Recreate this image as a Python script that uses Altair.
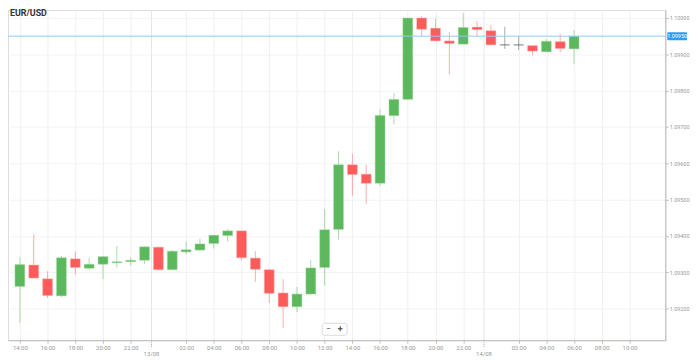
import altair as alt
import pandas as pd

# ---- data (EUR/USD hourly candles, 12/08 14:00 -> 14/08 06:00)
opens  = [1.09261, 1.09320, 1.09282, 1.09235, 1.09337, 1.09311, 1.09322, 1.09326, 1.09329, 1.09333,
          1.09369, 1.09307, 1.09356, 1.09361, 1.09379, 1.09401, 1.09414, 1.09339, 1.09307, 1.09243,
          1.09205, 1.09240, 1.09313, 1.09418, 1.09596, 1.09570, 1.09545, 1.09731, 1.09776, 1.10000,
          1.09972, 1.09937, 1.09928, 1.09975, 1.09965, 1.09926, 1.09926, 1.09924, 1.09907, 1.09935,
          1.09915]
highs  = [1.09341, 1.09404, 1.09303, 1.09345, 1.09357, 1.09340, 1.09345, 1.09372, 1.09341, 1.09372,
          1.09371, 1.09361, 1.09384, 1.09393, 1.09402, 1.09420, 1.09414, 1.09358, 1.09308, 1.09281,
          1.09260, 1.09333, 1.09474, 1.09633, 1.09626, 1.09596, 1.09748, 1.09793, 1.10000, 1.10005,
          1.09998, 1.09962, 1.10014, 1.09992, 1.09981, 1.09976, 1.09950, 1.09924, 1.09942, 1.09956,
          1.09967]
lows   = [1.09161, 1.09283, 1.09229, 1.09232, 1.09293, 1.09307, 1.09281, 1.09313, 1.09318, 1.09322,
          1.09305, 1.09305, 1.09350, 1.09360, 1.09365, 1.09384, 1.09333, 1.09273, 1.09216, 1.09146,
          1.09190, 1.09238, 1.09263, 1.09390, 1.09511, 1.09488, 1.09537, 1.09707, 1.09776, 1.09949,
          1.09937, 1.09846, 1.09928, 1.09950, 1.09926, 1.09915, 1.09912, 1.09897, 1.09907, 1.09906,
          1.09873]
closes = [1.09321, 1.09284, 1.09236, 1.09340, 1.09313, 1.09322, 1.09343, 1.09329, 1.09333, 1.09370,
          1.09307, 1.09358, 1.09362, 1.09378, 1.09402, 1.09414, 1.09340, 1.09308, 1.09242, 1.09205,
          1.09240, 1.09312, 1.09417, 1.09596, 1.09569, 1.09545, 1.09732, 1.09776, 1.10000, 1.09969,
          1.09937, 1.09930, 1.09974, 1.09968, 1.09926, 1.09926, 1.09926, 1.09909, 1.09936, 1.09916,
          1.09950]

tick_hours  = [0, 2, 4, 6, 8, 12, 14, 16, 18, 20, 22, 24, 26, 28, 30, 32, 36, 38, 40, 42, 44]
tick_labels = ["14:00", "16:00", "18:00", "20:00", "22:00", "02:00", "04:00", "06:00", "08:00",
               "10:00", "12:00", "14:00", "16:00", "18:00", "20:00", "22:00", "02:00", "04:00",
               "06:00", "08:00", "10:00"]
day_hours  = [9.5, 33.5]
day_labels = ["13/08", "14/08"]
y_ticks = [1.092, 1.093, 1.094, 1.095, 1.096, 1.097, 1.098, 1.099, 1.100]
current_price = 1.09950
pair_name = "EUR/USD"

# ---- styling
W, H = 665, 334
GREEN, RED, GRAY = "#5cb85c", "#ff5b5b", "#555555"
FONT = "Roboto"

df = pd.DataFrame({"h": list(range(len(opens))), "open": opens, "high": highs,
                   "low": lows, "close": closes})
df["dir"] = ["up" if c > o else ("down" if c < o else "flat") for o, c in zip(opens, closes)]

label_arr = [""] * 45
for h, l in zip(tick_hours, tick_labels):
    label_arr[h] = l
label_expr = "[" + ",".join("'%s'" % s for s in label_arr) + "][datum.value]"

xscale = alt.Scale(domain=[-0.5, 46.23], nice=False, zero=False)
yscale = alt.Scale(domain=[1.09113, 1.10022], nice=False, zero=False)
cscale = alt.Scale(domain=["up", "down", "flat"], range=[GREEN, RED, GRAY])

x_axis = alt.Axis(values=tick_hours, labelExpr=label_expr, labelFontSize=6, labelColor="#999",
                  labelFont=FONT, tickSize=3, tickColor="#bbb", domainColor="#bbb",
                  gridColor="#f0f0f0", labelPadding=1, title=None, labelFlush=False)
y_axis = alt.Axis(orient="right", values=y_ticks, format=".5f", labelFontSize=5.5,
                  labelColor="#999", labelFont=FONT, tickSize=3, tickColor="#bbb",
                  domainColor="#bbb", gridColor="#f3f3f3", labelPadding=1, title=None)


def X(field):
    return alt.X(field, scale=xscale, axis=x_axis, title=None)


def Y(field):
    return alt.Y(field, scale=yscale, axis=y_axis, title=None)


base = alt.Chart(df)

wicks = base.mark_rule(strokeWidth=1, opacity=0.5).encode(
    x=X("h:Q"), y=Y("low:Q"), y2="high:Q",
    color=alt.Color("dir:N", scale=cscale, legend=None),
)
bodies = base.mark_bar(size=10, strokeWidth=1, strokeOpacity=0.45).encode(
    x=X("h:Q"), y=Y("open:Q"), y2="close:Q",
    color=alt.Color("dir:N", scale=cscale, legend=None),
    stroke=alt.Stroke("dir:N", scale=alt.Scale(domain=["up", "down", "flat"],
                                               range=["#a9dba9", "#ffb0b0", GRAY]), legend=None),
)

days = alt.Chart(pd.DataFrame({"h": day_hours, "lab": day_labels}))
day_lines = days.mark_rule(color="#e6e6e6", strokeWidth=1).encode(
    x=X("h:Q"), y=alt.value(0), y2=alt.value(H))
day_ticks = days.mark_rule(color="#aaa", strokeWidth=1, strokeDash=[1, 1]).encode(
    x=X("h:Q"), y=alt.value(H), y2=alt.value(H + 7))
day_text = days.mark_text(fontSize=6, color="#999", font=FONT, baseline="middle").encode(
    x=X("h:Q"), y=alt.value(H + 14), text="lab:N")

pdf = pd.DataFrame({"h": [0], "low": [current_price]})
price_line = alt.Chart(pdf).mark_rule(color="#90cbf9", strokeWidth=1).encode(
    y=Y("low:Q"), x=alt.value(0), x2=alt.value(W))
price_box = alt.Chart(pdf).mark_rect(
    color="#2e9bf0", yOffset=-4, y2Offset=4, cornerRadius=1).encode(
    x=alt.value(W + 2), x2=alt.value(W + 22), y=Y("low:Q"), y2="low:Q")
price_text = alt.Chart(pdf).mark_text(
    color="white", fontSize=5.5, font=FONT, baseline="middle").encode(
    x=alt.value(W + 12), y=Y("low:Q"), text=alt.Text("low:Q", format=".5f"))

title = alt.Chart(pd.DataFrame({"t": [pair_name]})).mark_text(
    fontSize=9, fontWeight="bold", color="#333", font=FONT, align="left",
    baseline="middle").encode(x=alt.value(2), y=alt.value(3), text="t:N")

buttons_bg = alt.Chart(pd.DataFrame({"b": [0, 1]})).mark_rect(
    color="white", stroke="#e0e0e0", cornerRadius=2).encode(
    x=alt.value(318), x2=alt.value(343), y=alt.value(317), y2=alt.value(329))
buttons_m = alt.Chart(pd.DataFrame({"b": ["\u2212"]})).mark_text(
    fontSize=9, color="#555", font=FONT, baseline="middle").encode(
    x=alt.value(324), y=alt.value(323), text="b:N")
buttons_p = alt.Chart(pd.DataFrame({"b": ["+"]})).mark_text(
    fontSize=9, color="#555", font=FONT, baseline="middle", fontWeight="bold").encode(
    x=alt.value(336), y=alt.value(323), text="b:N")

chart = alt.layer(
    day_lines, wicks, bodies, price_line, price_box, price_text, day_ticks, day_text,
    title, buttons_bg, buttons_m, buttons_p
).properties(
    width=W, height=H,
    autosize=alt.AutoSizeParams(type="none"),
    padding={"left": 0, "top": 0, "right": 26, "bottom": 17},
).configure_view(stroke="#e3e3e3").configure(background="white")

chart.save("out.html", embed_options={"renderer": "svg", "actions": False})
